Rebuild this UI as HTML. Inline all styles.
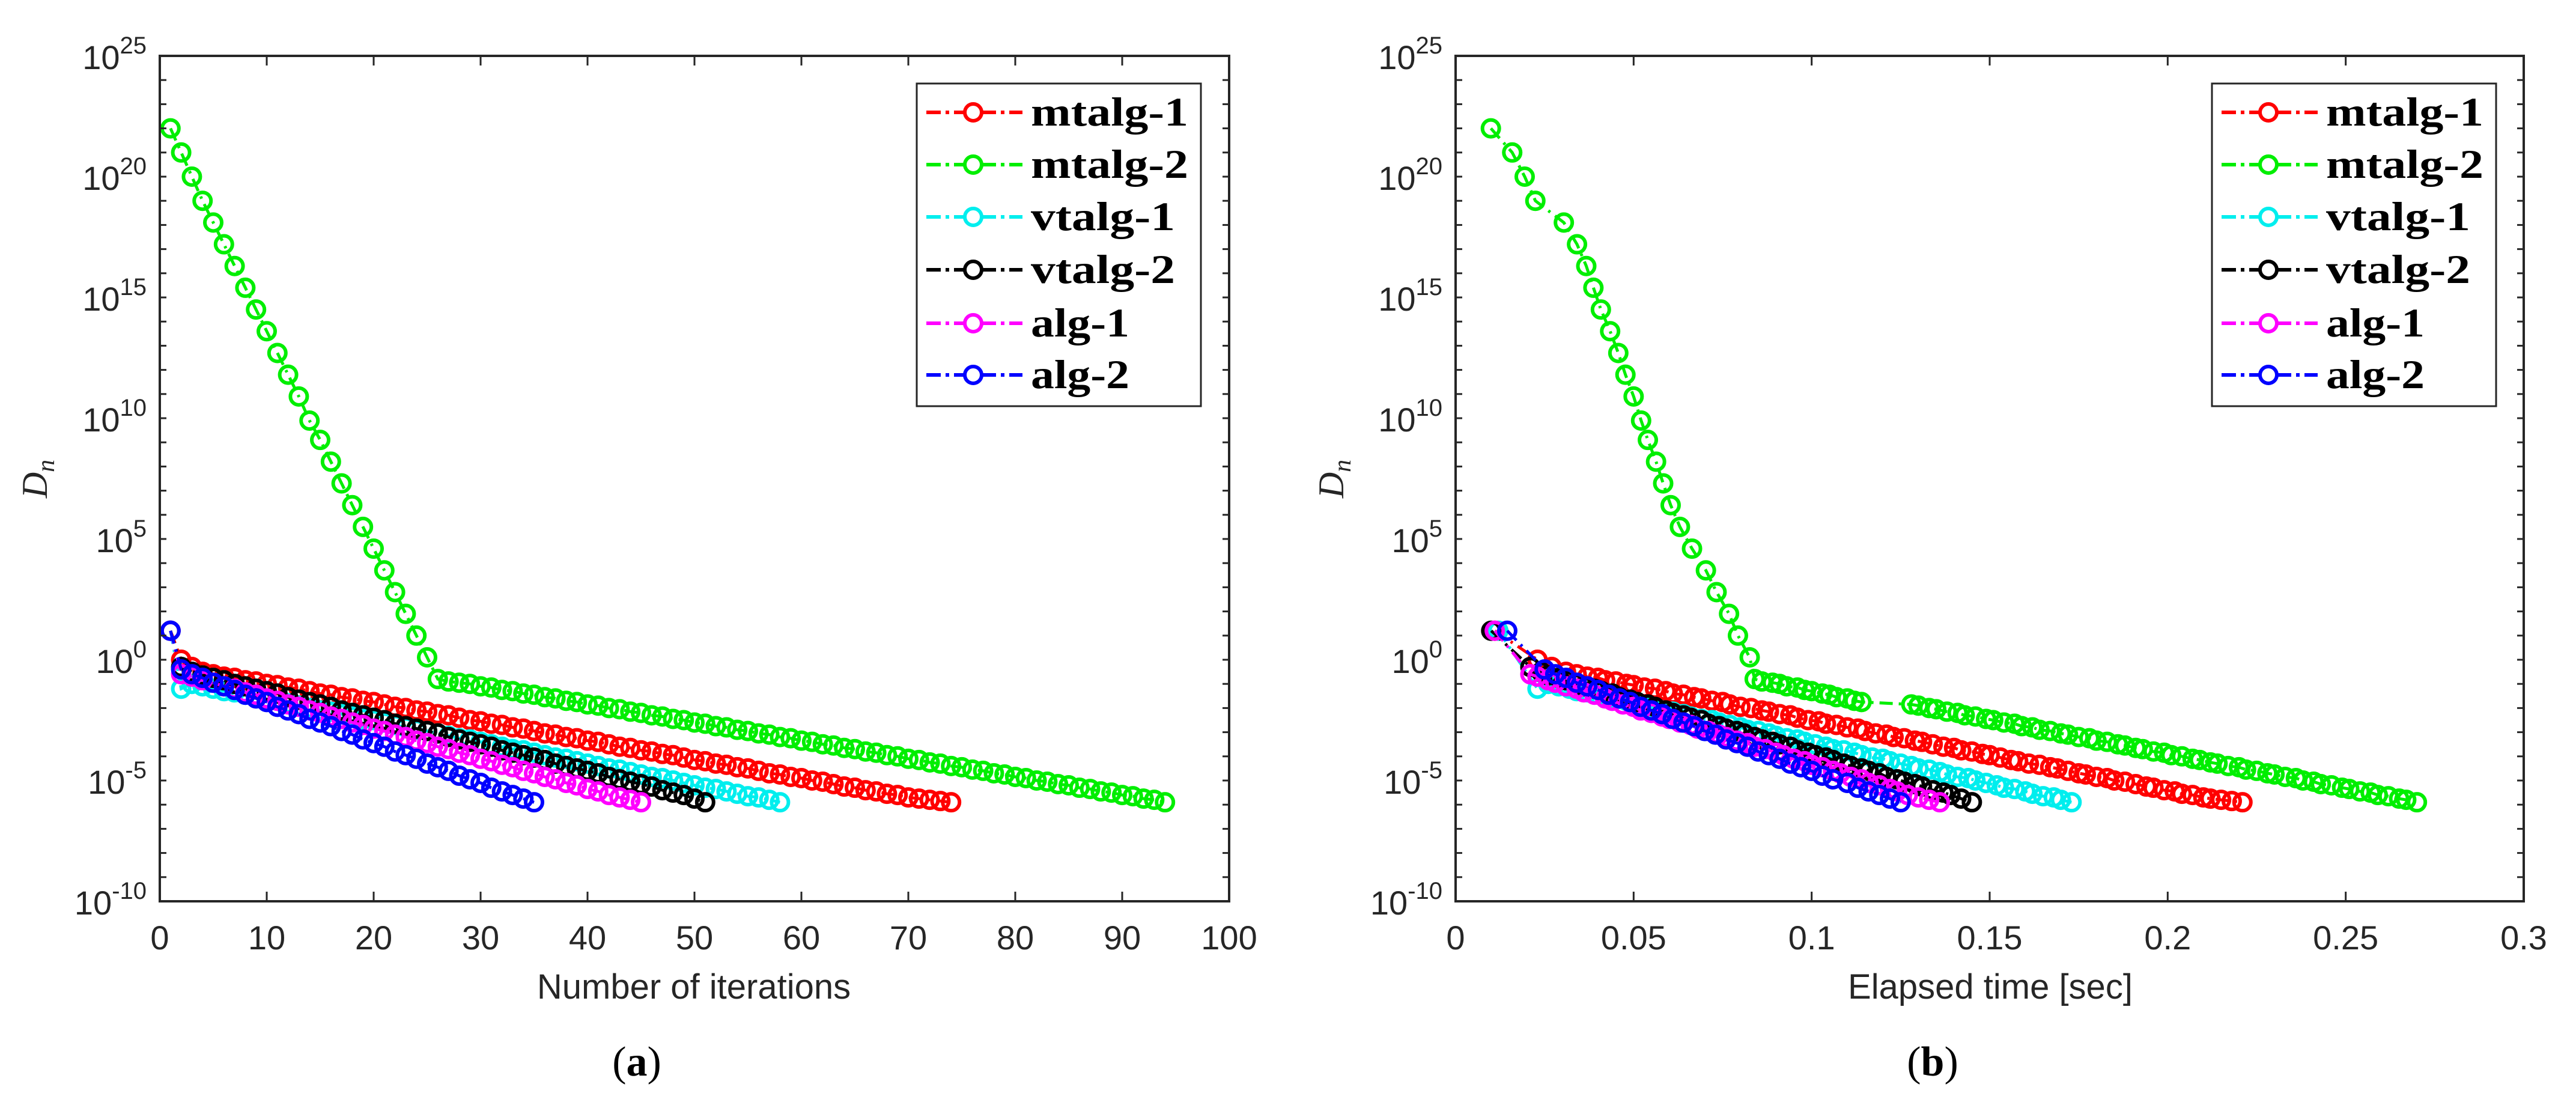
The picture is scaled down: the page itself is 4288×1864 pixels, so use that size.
<!DOCTYPE html>
<html><head><meta charset="utf-8"><style>
html,body{margin:0;padding:0;background:#fff;}
svg{display:block;}
</style></head><body>
<svg id="fig" xmlns="http://www.w3.org/2000/svg" width="4288" height="1864" viewBox="0 0 4288 1864"></svg>
<script>
const seriesNames = ["mtalg-1","mtalg-2","vtalg-1","vtalg-2","alg-1","alg-2"];
const seriesColors = ["#ff0000","#00ee00","#00eeee","#000000","#ff00ff","#0000ff"];
// log10(D_n) per iteration
const yMtalg1 = [1.2,0.0,-0.3,-0.5,-0.6,-0.7,-0.75,-0.85,-0.9,-1.0,-1.05,-1.15,-1.2,-1.3,-1.4,-1.45,-1.55,-1.6,-1.7,-1.75,-1.85,-1.95,-2.0,-2.1,-2.15,-2.25,-2.3,-2.4,-2.5,-2.55,-2.65,-2.7,-2.8,-2.85,-2.95,-3.05,-3.1,-3.2,-3.25,-3.35,-3.4,-3.5,-3.6,-3.65,-3.75,-3.8,-3.9,-3.95,-4.05,-4.15,-4.2,-4.3,-4.35,-4.45,-4.5,-4.6,-4.7,-4.75,-4.85,-4.9,-5.0,-5.05,-5.15,-5.25,-5.3,-5.4,-5.45,-5.55,-5.6,-5.7,-5.75,-5.8,-5.85,-5.9];
const yMtalg2 = [22,21,20,19,18.1,17.2,16.3,15.4,14.5,13.6,12.7,11.8,10.9,9.9,9.1,8.2,7.3,6.4,5.5,4.6,3.7,2.8,1.9,1.0,0.1,-0.8,-0.9,-0.95,-1.0,-1.1,-1.15,-1.25,-1.3,-1.4,-1.45,-1.55,-1.6,-1.7,-1.75,-1.85,-1.9,-2.0,-2.05,-2.15,-2.2,-2.3,-2.35,-2.45,-2.5,-2.6,-2.65,-2.75,-2.8,-2.9,-2.95,-3.05,-3.1,-3.2,-3.25,-3.35,-3.4,-3.5,-3.55,-3.65,-3.7,-3.8,-3.85,-3.95,-4.0,-4.1,-4.15,-4.25,-4.3,-4.4,-4.45,-4.55,-4.6,-4.7,-4.75,-4.85,-4.9,-5.0,-5.05,-5.15,-5.2,-5.3,-5.35,-5.45,-5.5,-5.6,-5.65,-5.75,-5.8,-5.9];
const yVtalg1 = [1.2,-1.2,-1.0,-1.1,-1.2,-1.3,-1.35,-1.45,-1.55,-1.65,-1.7,-1.8,-1.9,-2.0,-2.1,-2.15,-2.25,-2.35,-2.45,-2.5,-2.6,-2.7,-2.8,-2.9,-2.95,-3.05,-3.15,-3.25,-3.3,-3.4,-3.5,-3.6,-3.7,-3.75,-3.85,-3.95,-4.05,-4.1,-4.2,-4.3,-4.4,-4.5,-4.55,-4.65,-4.75,-4.85,-4.9,-5.0,-5.1,-5.2,-5.3,-5.35,-5.45,-5.55,-5.65,-5.7,-5.8,-5.9];
const yVtalg2 = [1.2,-0.3,-0.5,-0.65,-0.75,-0.85,-1.0,-1.1,-1.2,-1.3,-1.4,-1.55,-1.65,-1.75,-1.85,-1.95,-2.1,-2.2,-2.3,-2.4,-2.5,-2.65,-2.75,-2.85,-2.95,-3.05,-3.2,-3.3,-3.4,-3.5,-3.6,-3.75,-3.85,-3.95,-4.05,-4.15,-4.3,-4.4,-4.5,-4.6,-4.7,-4.85,-4.95,-5.05,-5.15,-5.25,-5.4,-5.5,-5.6,-5.75,-5.9];
const yAlg1 = [1.2,-0.6,-0.7,-0.85,-0.95,-1.1,-1.2,-1.35,-1.45,-1.6,-1.7,-1.85,-1.95,-2.1,-2.2,-2.35,-2.45,-2.6,-2.7,-2.85,-2.95,-3.1,-3.2,-3.35,-3.45,-3.6,-3.7,-3.85,-3.95,-4.1,-4.2,-4.35,-4.45,-4.6,-4.7,-4.85,-4.95,-5.1,-5.2,-5.35,-5.45,-5.6,-5.7,-5.8,-5.9];
const yAlg2 = [1.2,-0.4,-0.6,-0.75,-0.95,-1.1,-1.25,-1.45,-1.6,-1.75,-1.95,-2.1,-2.25,-2.45,-2.6,-2.75,-2.95,-3.1,-3.3,-3.45,-3.6,-3.8,-3.95,-4.1,-4.3,-4.45,-4.6,-4.8,-4.95,-5.1,-5.3,-5.45,-5.6,-5.75,-5.9];
// elapsed time [sec] per iteration
const tMtalg1 = [0.011,0.023,0.027,0.031,0.034,0.037,0.040,0.042,0.045,0.048,0.050,0.053,0.056,0.059,0.061,0.064,0.067,0.069,0.072,0.075,0.077,0.080,0.083,0.086,0.088,0.091,0.094,0.096,0.099,0.102,0.104,0.107,0.110,0.113,0.115,0.118,0.121,0.123,0.126,0.129,0.131,0.134,0.137,0.140,0.142,0.145,0.148,0.150,0.153,0.156,0.158,0.161,0.164,0.167,0.169,0.172,0.175,0.177,0.180,0.183,0.185,0.188,0.191,0.194,0.196,0.199,0.202,0.204,0.207,0.210,0.212,0.215,0.218,0.221];
const tMtalg2 = [0.0099,0.0159,0.0194,0.0224,0.0304,0.0341,0.0367,0.0387,0.0408,0.0434,0.0457,0.0477,0.0500,0.0521,0.0540,0.0563,0.0583,0.0604,0.0630,0.0664,0.0703,0.0733,0.0768,0.0793,0.0826,0.084,0.086,0.089,0.091,0.093,0.096,0.098,0.100,0.103,0.105,0.107,0.110,0.112,0.114,0.128,0.130,0.133,0.135,0.138,0.141,0.143,0.146,0.149,0.151,0.154,0.157,0.159,0.162,0.164,0.167,0.170,0.172,0.175,0.178,0.180,0.183,0.186,0.188,0.191,0.193,0.196,0.199,0.201,0.204,0.207,0.209,0.212,0.214,0.217,0.220,0.222,0.225,0.228,0.230,0.233,0.236,0.238,0.241,0.243,0.246,0.249,0.251,0.254,0.257,0.259,0.262,0.265,0.267,0.270];
const tVtalg1 = [0.012,0.023,0.026,0.029,0.032,0.034,0.037,0.040,0.042,0.045,0.048,0.050,0.053,0.056,0.058,0.061,0.064,0.066,0.069,0.072,0.074,0.077,0.080,0.082,0.085,0.088,0.090,0.093,0.096,0.098,0.101,0.104,0.106,0.109,0.112,0.114,0.117,0.120,0.122,0.125,0.128,0.130,0.133,0.136,0.138,0.141,0.144,0.146,0.149,0.152,0.154,0.157,0.160,0.162,0.165,0.168,0.170,0.173];
const tVtalg2 = [0.010,0.021,0.024,0.026,0.029,0.031,0.034,0.036,0.039,0.041,0.044,0.046,0.049,0.051,0.054,0.056,0.059,0.061,0.064,0.066,0.069,0.071,0.074,0.076,0.079,0.081,0.084,0.086,0.089,0.091,0.094,0.096,0.099,0.101,0.104,0.106,0.109,0.111,0.114,0.116,0.119,0.121,0.124,0.126,0.129,0.131,0.134,0.137,0.139,0.142,0.145];
const tAlg1 = [0.011,0.021,0.023,0.026,0.028,0.031,0.034,0.036,0.039,0.042,0.044,0.047,0.050,0.052,0.055,0.058,0.060,0.063,0.066,0.068,0.071,0.074,0.076,0.079,0.082,0.084,0.087,0.090,0.092,0.095,0.098,0.100,0.103,0.106,0.108,0.111,0.114,0.116,0.119,0.122,0.124,0.127,0.130,0.133,0.136];
const tAlg2 = [0.0145,0.025,0.028,0.031,0.034,0.037,0.040,0.043,0.046,0.049,0.052,0.055,0.058,0.061,0.064,0.067,0.070,0.073,0.076,0.079,0.082,0.085,0.088,0.091,0.094,0.097,0.100,0.103,0.106,0.110,0.113,0.116,0.119,0.122,0.125];
const yTickExps = [25,20,15,10,5,0,-5,-10];
const xTicksA = [0,10,20,30,40,50,60,70,80,90,100];
const xTickLabelsB = ["0","0.05","0.1","0.15","0.2","0.25","0.3"];
const xTicksB = [0,0.05,0.1,0.15,0.2,0.25,0.3];

const NS="http://www.w3.org/2000/svg";
const svg=document.getElementById('fig');
function mk(tag,attrs,parent){const e=document.createElementNS(NS,tag);for(const k in attrs)e.setAttribute(k,attrs[k]);(parent||svg).appendChild(e);return e;}

const yAll=[yMtalg1,yMtalg2,yVtalg1,yVtalg2,yAlg1,yAlg2];
const tAll=[tMtalg1,tMtalg2,tVtalg1,tVtalg2,tAlg1,tAlg2];

function drawPanel(cfg){
  const g=mk('g',{});
  
  
  const X0=cfg.x0,X1=cfg.x1,Y0=93,Y1=1500;
  const sx=v=>X0+(v-cfg.xmin)/(cfg.xmax-cfg.xmin)*(X1-X0);
  const sy=e=>Y0+(25-e)/35*(Y1-Y0);
  for(let s=0;s<6;s++){
    const xs=cfg.xs(s), ys=yAll[s];
    const sg=mk('g',{},g);
    
    
    const pts=xs.map((v,i)=>sx(v).toFixed(1)+','+sy(ys[i]).toFixed(1)).join(' ');
    const pl=mk('polyline',{points:pts,fill:'none',stroke:seriesColors[s],'stroke-width':5,'stroke-dasharray':'22 10 4 10'},sg);
    
    
    for(let i=0;i<xs.length;i++){
      const c=mk('circle',{cx:sx(xs[i]),cy:sy(ys[i]),r:14,fill:'none',stroke:seriesColors[s],'stroke-width':6},sg);
      
      
    }
  }
  const box=mk('rect',{x:X0,y:Y0,width:X1-X0,height:Y1-Y0,fill:'none',stroke:'#262626','stroke-width':4},g);
  
  
  for(let e=-10;e<=25;e++){
    const y=sy(e);
    mk('line',{x1:X0,y1:y,x2:X0+11,y2:y,stroke:'#262626','stroke-width':3},g);
    mk('line',{x1:X1,y1:y,x2:X1-11,y2:y,stroke:'#262626','stroke-width':3},g);
  }
  yTickExps.forEach(e=>{
    const t=mk('text',{x:X0-22,y:sy(e)+22,'text-anchor':'end','font-family':'Liberation Sans, sans-serif','font-size':56,fill:'#262626'},g);
    
    
    const a=mk('tspan',{},t);a.textContent='10';
    const b=mk('tspan',{dy:-26,'font-size':40},t);b.textContent=String(e);
  });
  cfg.xticks.forEach((v,i)=>{
    const x=sx(v);
    mk('line',{x1:x,y1:Y1,x2:x,y2:Y1-16,stroke:'#262626','stroke-width':3},g);
    mk('line',{x1:x,y1:Y0,x2:x,y2:Y0+16,stroke:'#262626','stroke-width':3},g);
    const t=mk('text',{x:x,y:1580,'text-anchor':'middle','font-family':'Liberation Sans, sans-serif','font-size':56,fill:'#262626'},g);
    
    
    t.textContent=cfg.xlabels[i];
  });
  const xt=mk('text',{x:cfg.titleX,y:1662,'text-anchor':'middle','font-family':'Liberation Sans, sans-serif','font-size':58,fill:'#262626'},g);
  
  
  xt.textContent=cfg.title;
  const yt=mk('text',{x:0,y:0,transform:`translate(${cfg.ylabX},797) rotate(-90)`,'text-anchor':'middle','font-family':'Liberation Serif, serif','font-style':'italic','font-size':60,fill:'#262626'},g);
  
  
  const y1=mk('tspan',{},yt);y1.textContent='D';
  const y2=mk('tspan',{dy:12,'font-size':42},yt);y2.textContent='n';
  const cap=mk('text',{x:cfg.capX,y:1790,'text-anchor':'middle','font-family':'Liberation Serif, serif','font-size':70,fill:'#000'},g);
  
  
  const c1=mk('tspan',{},cap);c1.textContent='(';
  const c2=mk('tspan',{'font-weight':'bold'},cap);c2.textContent=cfg.cap;
  const c3=mk('tspan',{},cap);c3.textContent=')';
  const lg=mk('g',{},g);
  
  
  mk('rect',{x:cfg.legX,y:139,width:473,height:537,fill:'#fff',stroke:'#262626','stroke-width':3},lg);
  const rows=[187,274,361,449,538,624];
  for(let s=0;s<6;s++){
    const eg=mk('g',{},lg);
    
    
    const y=rows[s];
    mk('line',{x1:cfg.legX+16,y1:y,x2:cfg.legX+176,y2:y,stroke:seriesColors[s],'stroke-width':6,'stroke-dasharray':'24 8 6 8'},eg);
    mk('circle',{cx:cfg.legX+94,cy:y,r:14,fill:'#fff',stroke:seriesColors[s],'stroke-width':6},eg);
    const t=mk('text',{x:cfg.legX+190,y:y+22,'font-family':'Liberation Serif, serif','font-weight':'bold','font-size':68,fill:'#000',textLength:262,lengthAdjust:'spacingAndGlyphs'},eg);
    t.textContent=seriesNames[s];
    if(seriesNames[s].startsWith('alg')) t.setAttribute('textLength',164);
    if(seriesNames[s].startsWith('vtalg')) t.setAttribute('textLength',240);
  }
}
drawPanel({name:'panel-a',x0:266,x1:2046,xmin:0,xmax:100,xs:s=>yAll[s].map((_,i)=>i+1),
  xticks:xTicksA,xlabels:xTicksA.map(String),title:'Number of iterations',titleX:1155,ylabX:78,capX:1060,cap:'a',legX:1526});
drawPanel({name:'panel-b',x0:2423,x1:4201,xmin:0,xmax:0.3,xs:s=>tAll[s],
  xticks:xTicksB,xlabels:xTickLabelsB,title:'Elapsed time [sec]',titleX:3313,ylabX:2236,capX:3217,cap:'b',legX:3682});
</script>
</body></html>
